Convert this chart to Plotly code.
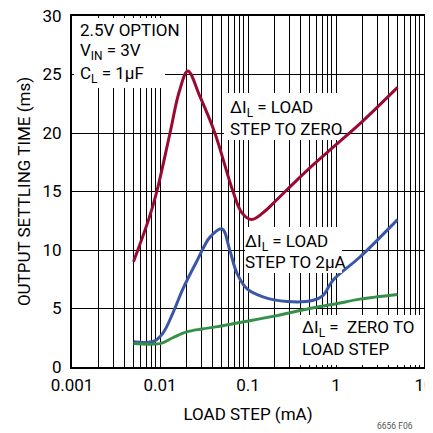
import plotly.graph_objects as go

# load step (mA) and settling time (ms)
red_x = [0.005, 0.0075, 0.0092, 0.013, 0.0165, 0.0207, 0.0285, 0.042, 0.0676, 0.085, 0.11, 0.16, 0.2, 0.5, 1, 2, 5]
red_y = [9.0, 12.7, 15.0, 20.0, 23.5, 25.3, 23.1, 20.0, 15.0, 13.2, 12.6, 13.4, 14.1, 17.0, 19.0, 21.0, 23.9]

blue_x = [0.005, 0.0085, 0.0108, 0.014, 0.018, 0.026, 0.037, 0.0507, 0.062, 0.075, 0.097, 0.148, 0.277, 0.55, 0.71, 0.92, 1.87, 5]
blue_y = [2.15, 2.2, 2.9, 4.6, 6.6, 9.0, 11.1, 11.8, 10.0, 8.0, 6.7, 6.0, 5.6, 5.7, 6.1, 7.4, 9.4, 12.6]

green_x = [0.005, 0.01, 0.014, 0.02, 0.03, 0.045, 0.08, 0.2, 0.5, 1, 1.87, 5]
green_y = [2.0, 2.0, 2.5, 3.0, 3.25, 3.45, 3.8, 4.35, 5.0, 5.4, 5.8, 6.2]

x_ticks = [0.001, 0.01, 0.1, 1, 10]
x_labels = ["0.001", "0.01", "0.1", "1", "10"]
y_ticks = [0, 5, 10, 15, 20, 25, 30]

FONT = "Roboto, Liberation Sans, sans-serif"

# plot area in window pixels: x 72..424, y 16..367 (page body adds an 8px offset)
def px(x):
    return (x - 72) / 352

def py(y):
    return (367 - y) / 351

fig = go.Figure()
for xs, ys, col in [(red_x, red_y, "#990a33"), (blue_x, blue_y, "#3a57a7"), (green_x, green_y, "#359048")]:
    fig.add_trace(go.Scatter(x=xs, y=ys, mode="lines",
                             line=dict(color=col, width=3, shape="spline", smoothing=1.0),
                             showlegend=False))

# white panels that hide the grid behind the labels
for x0, y0, x1, y1 in [(74, 18, 178, 64), (74, 64, 165, 88), (224, 93, 340, 140),
                       (245, 227, 342, 273), (291, 315, 422, 365)]:
    fig.add_annotation(x=px(x0), y=py(y0), xref="paper", yref="paper", xanchor="left", yanchor="top",
                       text=" ", showarrow=False, width=x1 - x0, height=y1 - y0,
                       bgcolor="white", borderpad=0, borderwidth=0)

labels = [
    ("2.5V OPTION", 79, 30), ("V<sub>IN</sub> = 3V", 79, 52), ("C<sub>L</sub> = 1µF", 79, 74),
    ("ΔI<sub>L</sub> = LOAD", 229, 108), ("STEP TO ZERO", 229, 129),
    ("ΔI<sub>L</sub> = LOAD", 244, 242), ("STEP TO 2µA", 244, 262),
    ("ΔI<sub>L</sub> =  ZERO TO", 301, 328), ("LOAD STEP", 301, 349),
]
for t, lx, ly in labels:
    fig.add_annotation(x=px(lx), y=py(ly), xref="paper", yref="paper", text=t, showarrow=False,
                       xanchor="left", yanchor="middle", align="left", borderpad=0,
                       font=dict(family=FONT, size=17, color="black"))

fig.add_annotation(xref="paper", yref="paper", x=px(415), y=py(426), xanchor="right", yanchor="middle",
                   showarrow=False, text="6656 F06", font=dict(family=FONT, size=8.5, color="#555555"))

fig.update_xaxes(type="log", range=[-3, 1], tickvals=x_ticks, ticktext=x_labels,
                 showgrid=True, gridcolor="black", gridwidth=1,
                 minor=dict(dtick="D1", showgrid=True, gridcolor="black", gridwidth=1, ticks=""),
                 showline=True, linecolor="black", linewidth=2, mirror=True, ticks="",
                 ticklabelstandoff=2, zeroline=False, automargin=False, ticklabeloverflow="allow",
                 title=dict(text="LOAD STEP (mA)", standoff=14, font=dict(family=FONT, size=17)),
                 tickfont=dict(family=FONT, size=17, color="black"))
fig.update_yaxes(range=[0, 30], tickvals=y_ticks,
                 showgrid=True, gridcolor="black", gridwidth=1,
                 showline=True, linecolor="black", linewidth=2, mirror=True, ticks="",
                 ticklabelstandoff=5, zeroline=False, automargin=False, ticklabeloverflow="allow",
                 title=dict(text="OUTPUT SETTLING TIME (ms)", standoff=8, font=dict(family=FONT, size=17)),
                 tickfont=dict(family=FONT, size=17, color="black"))

fig.update_layout(width=433, height=433, margin=dict(l=64, r=17, t=8, b=74),
                  paper_bgcolor="white", plot_bgcolor="white",
                  font=dict(family=FONT, color="black"))
fig.write_html("out.html")
